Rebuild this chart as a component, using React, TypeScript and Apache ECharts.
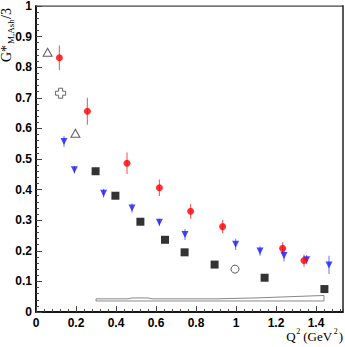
import React, { useEffect, useRef } from "react";
import * as echarts from "echarts";

const redX = [0.117, 0.257, 0.455, 0.617, 0.773, 0.933, 1.233, 1.34];
const redY = [0.831, 0.656, 0.486, 0.406, 0.329, 0.279, 0.208, 0.168];
const redErr = [0.04, 0.044, 0.035, 0.027, 0.024, 0.022, 0.02, 0.02];

const blueX = [0.14, 0.192, 0.338, 0.48, 0.617, 0.745, 0.998, 1.12, 1.24, 1.353, 1.465];
const blueY = [0.557, 0.465, 0.388, 0.34, 0.293, 0.253, 0.221, 0.199, 0.185, 0.171, 0.154];
const blueErr = [0.018, 0.012, 0.015, 0.015, 0.012, 0.018, 0.018, 0.015, 0.02, 0.015, 0.03];

const squareX = [0.298, 0.397, 0.522, 0.645, 0.743, 0.893, 1.143, 1.442];
const squareY = [0.46, 0.38, 0.295, 0.236, 0.195, 0.155, 0.112, 0.075];

const openCircleX = [0.995];
const openCircleY = [0.14];
const openTriX = [0.058, 0.197];
const openTriY = [0.849, 0.584];
const crossX = [0.123];
const crossY = [0.715];

const bandX = [0.3, 0.46, 0.48, 0.56, 0.58, 0.9, 1.1, 1.44];
const bandUpper = [0.043, 0.043, 0.046, 0.046, 0.043, 0.043, 0.046, 0.054];
const bandLower = [0.036, 0.036, 0.036, 0.036, 0.036, 0.036, 0.036, 0.036];

const xTickLabels = ["0", "0.2", "0.4", "0.6", "0.8", "1", "1.2", "1.4"];

const zip = (xs: number[], ys: number[]) => xs.map((x, i) => [x, ys[i]]);

const errSeries = (xs: number[], ys: number[], es: number[], color: string) => ({
  type: "custom",
  xAxisIndex: 0,
  yAxisIndex: 0,
  silent: true,
  data: xs.map((x, i) => [x, ys[i] - es[i], ys[i] + es[i]]),
  renderItem: (params: any, api: any) => {
    const p1 = api.coord([api.value(0), api.value(1)]);
    const p2 = api.coord([api.value(0), api.value(2)]);
    return {
      type: "line",
      shape: { x1: p1[0], y1: p1[1], x2: p2[0], y2: p2[1] },
      style: { stroke: color, lineWidth: 1.2 },
    };
  },
  z: 1,
});

const labelFont = {
  fontFamily: "Liberation Sans, Arial, sans-serif",
  fontWeight: "bold" as const,
  fontSize: 12,
  color: "#000",
};

export default function App() {
  const ref = useRef<HTMLDivElement>(null);
  useEffect(() => {
    if (!ref.current) return;
    const chart = echarts.init(ref.current, undefined, { renderer: "svg" });
    const bandPoly = [
      ...zip(bandX, bandUpper),
      ...zip([...bandX].reverse(), [...bandLower].reverse()),
    ];
    bandPoly.push(bandPoly[0]);
    const serif = "Liberation Serif, Times New Roman, serif";
    chart.setOption({
      animation: false,
      grid: {
        left: 36,
        top: 4,
        right: 2,
        bottom: 35,
        show: true,
        borderColor: "#222",
        borderWidth: 1.5,
        backgroundColor: "transparent",
      },
      xAxis: [
        {
          type: "value",
          min: 0,
          max: 1.535,
          interval: 0.2,
          axisLine: { show: true, onZero: false, lineStyle: { color: "#000", width: 1.5 } },
          axisTick: { show: true, inside: true, length: 6, lineStyle: { color: "#444" } },
          splitLine: { show: false },
          axisLabel: {
            ...labelFont,
            margin: 5,
            showMaxLabel: false,
            formatter: (v: number) => {
              const idx = Math.round(v / 0.2);
              return Math.abs(v - idx * 0.2) < 1e-6 ? xTickLabels[idx] ?? "" : "";
            },
          },
        },
        {
          type: "value",
          min: 0,
          max: 1.535,
          interval: 0.04,
          position: "bottom",
          axisLine: { show: false },
          axisTick: { show: true, inside: true, length: 3, lineStyle: { color: "#444" } },
          axisLabel: { show: false },
          splitLine: { show: false },
        },
      ],
      yAxis: {
        type: "value",
        min: 0,
        max: 1,
        interval: 0.1,
        axisLine: { show: true, onZero: false, lineStyle: { color: "#000", width: 1.5 } },
        axisTick: { show: true, inside: true, length: 6, lineStyle: { color: "#444" } },
        minorTick: { show: true, splitNumber: 5, length: 3, lineStyle: { color: "#444" } },
        splitLine: { show: false },
        axisLabel: { ...labelFont, margin: 4 },
      },
      series: [
        {
          type: "line",
          data: bandPoly,
          symbol: "none",
          lineStyle: { color: "#888", width: 1 },
          silent: true,
          z: 0,
        },
        errSeries(redX, redY, redErr, "#f36b6b"),
        errSeries(blueX, blueY, blueErr, "#7f8ff5"),
        {
          type: "scatter",
          data: zip(squareX, squareY),
          symbol: "rect",
          symbolSize: 8,
          itemStyle: { color: "#000" },
          z: 3,
        },
        {
          type: "scatter",
          data: zip(blueX, blueY),
          symbol: "triangle",
          symbolRotate: 180,
          symbolSize: [7, 7],
          itemStyle: { color: "#1a1aff" },
          z: 3,
        },
        {
          type: "scatter",
          data: zip(redX, redY),
          symbol: "circle",
          symbolSize: 7,
          itemStyle: { color: "#ff0000" },
          z: 3,
        },
        {
          type: "scatter",
          data: zip(openCircleX, openCircleY),
          symbol: "circle",
          symbolSize: 8,
          itemStyle: { color: "#fff", borderColor: "#333", borderWidth: 1 },
          z: 3,
        },
        {
          type: "scatter",
          data: zip(openTriX, openTriY),
          symbol: "triangle",
          symbolSize: [9, 8],
          itemStyle: { color: "#fff", borderColor: "#333", borderWidth: 1 },
          z: 3,
        },
        {
          type: "scatter",
          data: zip(crossX, crossY),
          symbol: "path://M3,0 H7 V3 H10 V7 H7 V10 H3 V7 H0 V3 H3 Z",
          symbolSize: 10,
          itemStyle: { color: "#fff", borderColor: "#444", borderWidth: 1 },
          z: 3,
        },
      ],
      graphic: [
        {
          type: "line",
          shape: { x1: 36, y1: 5.8, x2: 342, y2: 5.8 },
          style: { stroke: "#bbb", lineWidth: 1 },
          silent: true,
        },
        {
          type: "group",
          x: 6,
          y: 62,
          rotation: Math.PI / 2,
          children: [
            {
              type: "text",
              x: 0,
              y: 0,
              style: { text: "G*", font: `14px ${serif}`, fill: "#000", verticalAlign: "middle", align: "left" },
            },
            {
              type: "text",
              x: 18,
              y: 5,
              style: { text: "M,Ash", font: `9px ${serif}`, fill: "#000", verticalAlign: "middle", align: "left" },
            },
            {
              type: "text",
              x: 43,
              y: 0,
              style: { text: "/3", font: `14px ${serif}`, fill: "#000", verticalAlign: "middle", align: "left" },
            },
          ],
        },
        {
          type: "group",
          right: 2,
          top: 327,
          children: [
            { type: "text", x: 0, y: 3, style: { text: "Q", font: `13px ${serif}`, fill: "#000" } },
            { type: "text", x: 10, y: 0, style: { text: "2", font: `8px ${serif}`, fill: "#000" } },
            { type: "text", x: 17, y: 3, style: { text: "(GeV", font: `13px ${serif}`, fill: "#000" } },
            { type: "text", x: 47.5, y: 0, style: { text: "2", font: `8px ${serif}`, fill: "#000" } },
            { type: "text", x: 52.5, y: 3, style: { text: ")", font: `13px ${serif}`, fill: "#000" } },
          ],
        },
      ],
    });
    return () => chart.dispose();
  }, []);
  return <div ref={ref} style={{ position: "absolute", left: 0, top: 0, width: 345, height: 347 }} />;
}
